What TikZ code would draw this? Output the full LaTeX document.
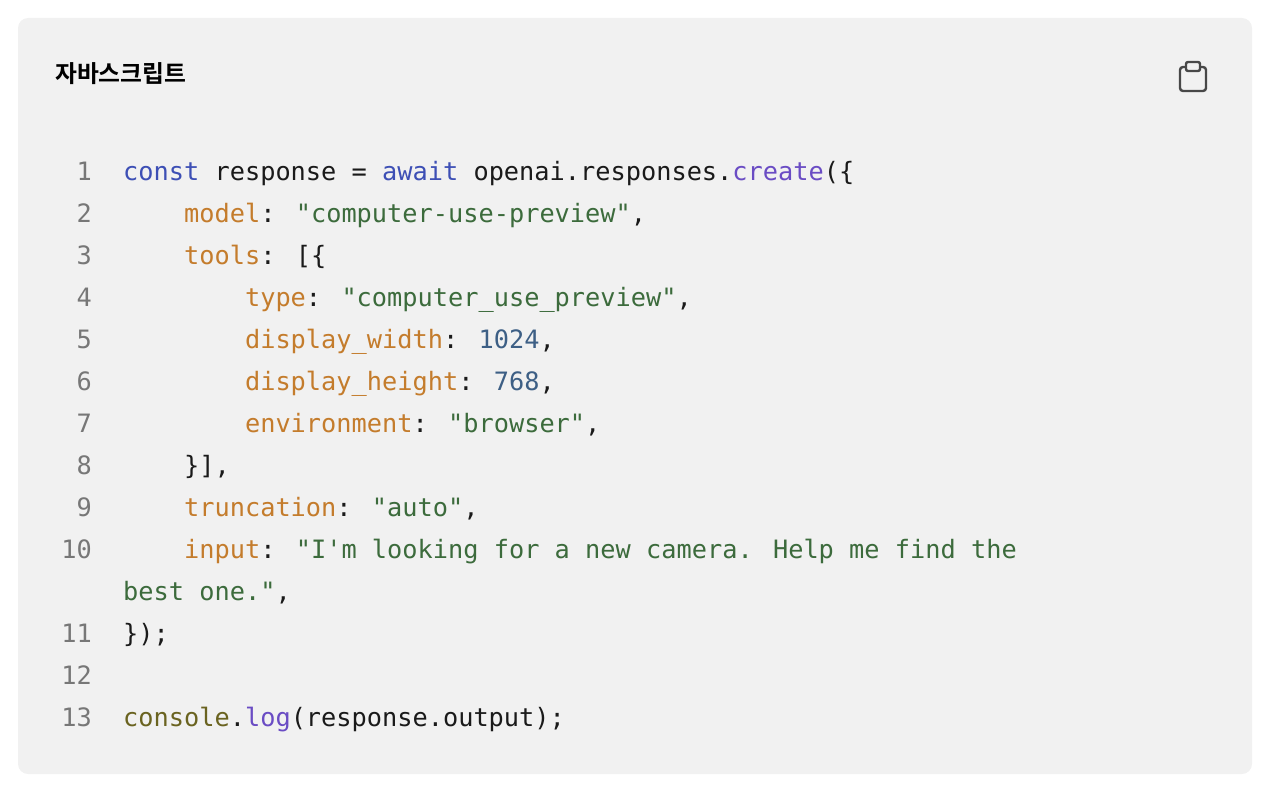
\documentclass[tikz,border=0pt]{standalone}
\usepackage{fontspec}
\newfontfamily\mono{DejaVu Sans Mono}
\newfontfamily\cjk{Noto Sans CJK KR Bold}
\definecolor{bgc}{HTML}{F1F1F1}
\definecolor{kw}{HTML}{3D4FB5}
\definecolor{pr}{HTML}{C47C2C}
\definecolor{st}{HTML}{3C6B3C}
\definecolor{nu}{HTML}{3D5F85}
\definecolor{fn}{HTML}{6A4CC4}
\definecolor{ob}{HTML}{6A6320}
\definecolor{ln}{HTML}{777777}
\definecolor{tx}{HTML}{1A1A1A}
\newcommand\cK[1]{\textcolor{kw}{#1}}
\newcommand\cP[1]{\textcolor{pr}{#1}}
\newcommand\cS[1]{\textcolor{st}{#1}}
\newcommand\cN[1]{\textcolor{nu}{#1}}
\newcommand\cF[1]{\textcolor{fn}{#1}}
\newcommand\cO[1]{\textcolor{ob}{#1}}
\begin{document}
\begin{tikzpicture}[x=1pt,y=-1pt,
  code/.style={anchor=base west,inner sep=0,text=tx,font=\mono\fontsize{25.3}{30}\selectfont},
  num/.style={anchor=base east,inner sep=0,text=ln,font=\mono\fontsize{25.3}{30}\selectfont}]
\useasboundingbox (0,0) rectangle (1280,800);
\fill[bgc,rounded corners=10] (18,18) rectangle (1252,774);
\node[anchor=base west,inner sep=0,font=\cjk\fontsize{23.8}{28}\selectfont] (title) at (55,82) {자바스크립트};
% clipboard icon
\draw[line width=2.4,color=tx!80,rounded corners=3] (1185,67) -- (1180,67) -- (1180,91) -- (1206,91) -- (1206,67) -- (1201,67);
\draw[line width=2.4,color=tx!80,rounded corners=2] (1186,62) rectangle (1200,71);
\def\cw{15.23}
\foreach \n/\r in {1/1,2/2,3/3,4/4,5/5,6/6,7/7,8/8,9/9,10/10,11/12,12/13,13/14}
  \node[num] (n\n) at (92,180+42*\r-42) {\n};
\node[code] (l1) at (123,180) {\cK{const} response = \cK{await} openai.responses.\cF{create}(\{};
\node[code] (l2) at (123+4*\cw,222) {\cP{model}: \cS{"computer-use-preview"},};
\node[code] (l3) at (123+4*\cw,264) {\cP{tools}: [\{};
\node[code] (l4) at (123+8*\cw,306) {\cP{type}: \cS{"computer\_use\_preview"},};
\node[code] (l5) at (123+8*\cw,348) {\cP{display\_width}: \cN{1024},};
\node[code] (l6) at (123+8*\cw,390) {\cP{display\_height}: \cN{768},};
\node[code] (l7) at (123+8*\cw,432) {\cP{environment}: \cS{"browser"},};
\node[code] (l8) at (123+4*\cw,474) {\}],};
\node[code] (l9) at (123+4*\cw,516) {\cP{truncation}: \cS{"auto"},};
\node[code] (l10) at (123+4*\cw,558) {\cP{input}: \cS{"I'm looking for a new camera. Help me find the}};
\node[code] (l10b) at (123,600) {\cS{best one."},};
\node[code] (l11) at (123,642) {\});};
\node[code] (l13) at (123,726) {\cO{console}.\cF{log}(response.output);};
\end{tikzpicture}
\end{document}
